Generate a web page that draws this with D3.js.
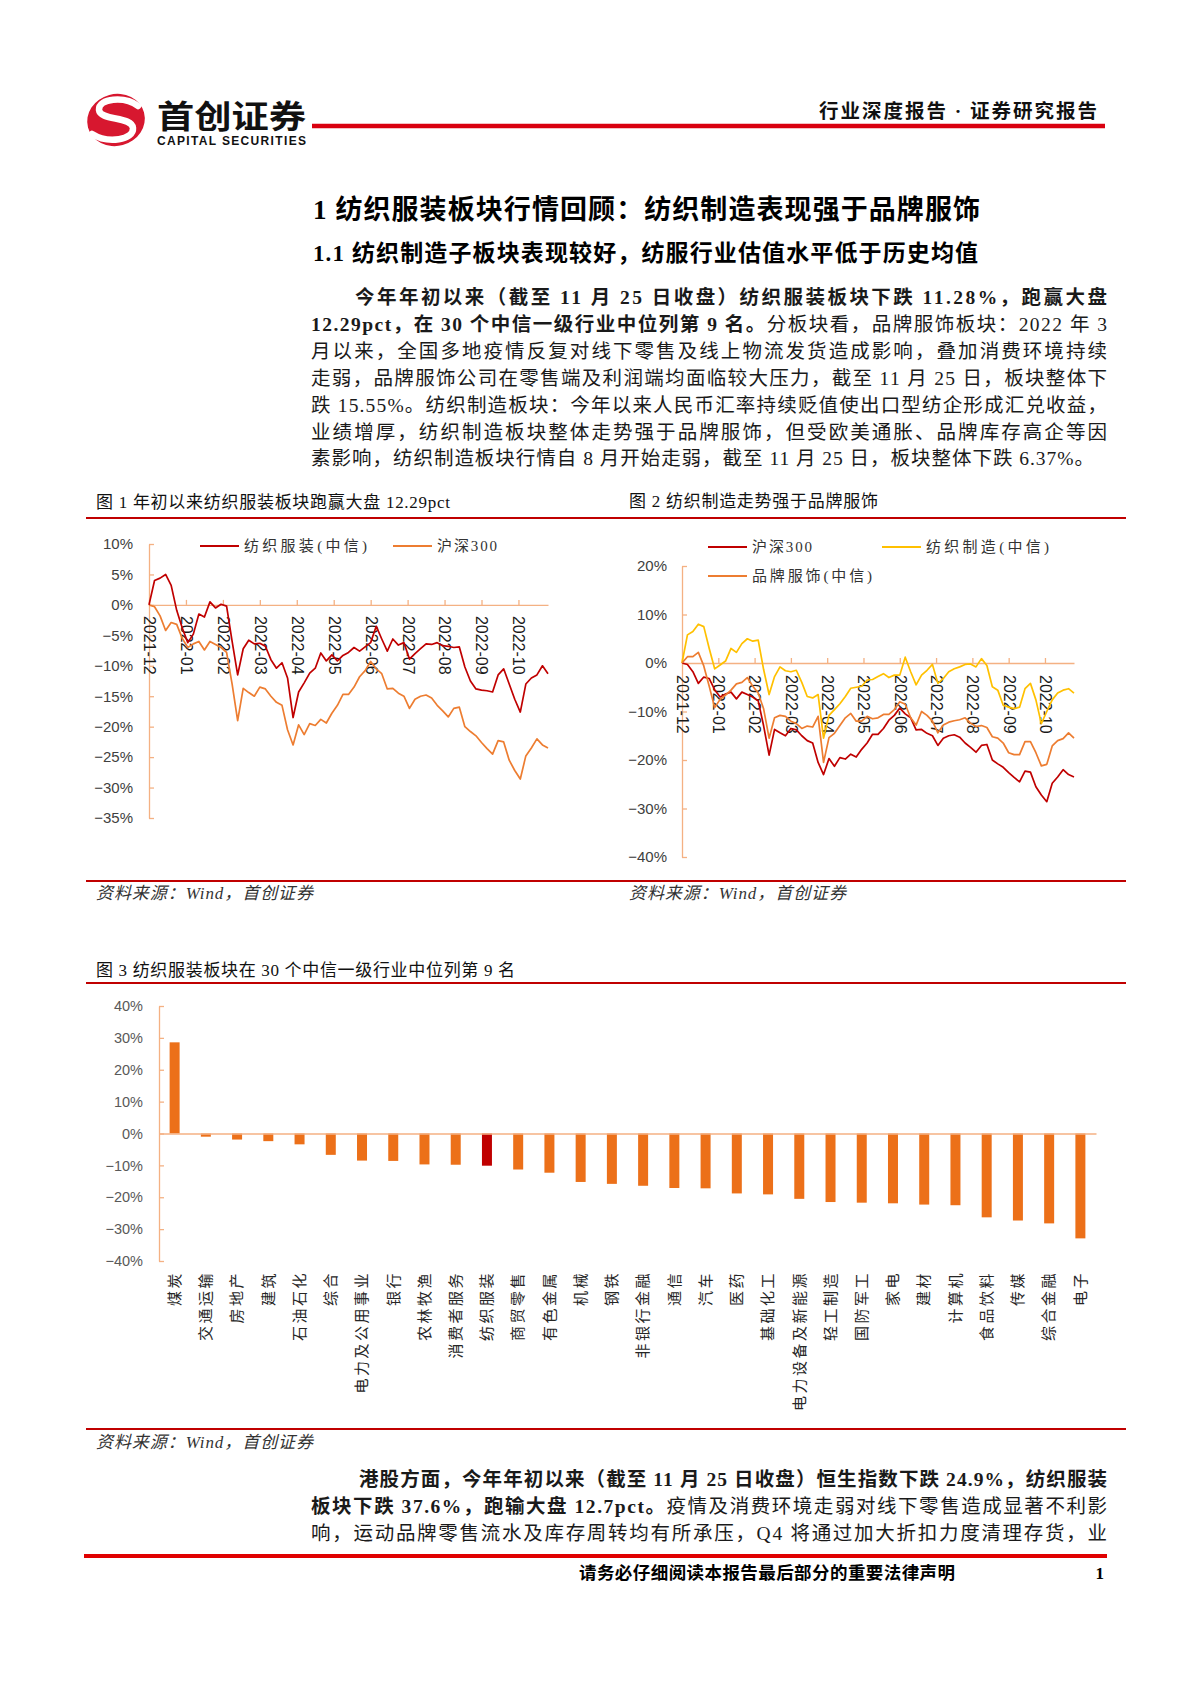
<!DOCTYPE html>
<html>
<head>
<meta charset="utf-8">
<script src="https://cdn.jsdelivr.net/npm/d3@7"></script>
<style>
  html, body { margin: 0; padding: 0; background: #fff; }
  svg { display: block; }
</style>
</head>
<body>
<div id="page"></div>
<script>
// ---- data -------------------------------------------------------------
const monthLabels = ["2021-12", "2022-01", "2022-02", "2022-03", "2022-04", "2022-05",
                     "2022-06", "2022-07", "2022-08", "2022-09", "2022-10"];
const sampleStep = 3;   // trading days between two samples
const tickEvery = 20;   // trading days between two month labels
const lastDay = 216;

// 纺织服装(中信), cumulative return in %
const textileApparel = [
  0, 4.0, 4.4, 5.0, 3.2, -0.9, -3.8, -6.2, -4.8, -1.5,
  -2.0, 0.5, -0.5, 0.1, -0.2, -6.0, -11.5, -7.2, -5.8, -6.4,
  -6.3, -6.8, -9.0, -10.4, -9.5, -12.0, -18.5, -14.3, -12.8, -11.2,
  -10.4, -7.9, -9.2, -8.2, -9.2, -8.3, -7.8, -7.0, -7.6, -6.9,
  -6.2, -3.5, -5.6, -7.6, -5.6, -6.6, -6.2, -8.9, -8.0, -7.2,
  -6.4, -6.5, -6.2, -6.7, -6.8, -7.0, -6.9, -10.2, -12.5, -13.8,
  -14.0, -14.1, -14.3, -11.5, -10.5, -13.0, -15.5, -17.6, -13.0, -12.0,
  -11.5, -10.0, -11.3
];
// 沪深300
const hs300 = [
  0, -0.3, -1.8, -4.2, -2.9, -3.2, -5.5, -7.0, -6.4, -6.0,
  -7.4, -6.0, -6.5, -7.0, -7.8, -13.0, -19.0, -13.7, -14.4, -15.0,
  -13.5, -13.8, -15.0, -16.0, -16.5, -20.5, -23.0, -19.7, -21.3, -19.5,
  -19.8, -18.8, -19.4, -17.8, -16.5, -14.7, -14.7, -13.5, -11.8, -10.8,
  -9.3, -10.5, -11.3, -13.8, -13.7, -14.5, -15.0, -17.0, -15.5, -15.0,
  -14.8, -15.3, -16.5, -17.4, -18.4, -17.0, -16.8, -20.0, -20.8, -21.5,
  -22.6, -23.6, -24.5, -22.3, -22.5, -25.5, -27.2, -28.6, -24.8, -23.5,
  -22.0, -23.0, -23.5
];
// 纺织制造(中信)
const textileMfg = [
  0, 5.8, 6.5, 8.0, 7.5, 3.0, -1.2, -0.4, 0.4, 3.0,
  2.2, 4.0, 5.0, 4.5, 4.7, -1.4, -6.5, -2.8, -0.8, -1.6,
  -1.8, -1.5, -4.0, -6.9, -7.2, -6.5, -15.5, -10.8, -9.6, -8.4,
  -6.9, -5.2, -5.0, -4.8, -3.5, -3.4, -2.8, -2.2, -3.0, -2.5,
  -2.5, 1.2, -1.8, -4.5, -2.5, -1.5, -0.3, -4.2, -3.2, -1.8,
  -1.2, -0.8, -0.3, -0.2, -0.8, 0.9, -0.5, -4.9, -5.6, -8.7,
  -9.1, -9.4, -9.1, -5.3, -4.2, -7.6, -12.5, -10.0, -7.6, -6.2,
  -5.6, -5.3, -6.2
];
// 品牌服饰(中信)
const brandApparel = [
  0, 1.3, 1.3, 2.2, -0.6, -4.8, -9.2, -7.5, -6.6, -5.6,
  -4.3, -4.0, -3.0, -4.8, -6.2, -9.5, -15.5, -11.3, -10.8, -11.0,
  -12.0, -12.5, -13.5, -13.0, -13.2, -11.0, -20.5, -15.4, -14.5, -12.9,
  -11.3, -10.4, -12.0, -12.0, -11.0, -11.5, -11.3, -10.6, -10.6, -9.6,
  -8.0, -8.5, -11.3, -12.8, -10.0, -10.8, -12.0, -14.4, -12.8, -12.2,
  -11.9, -11.7, -11.3, -12.4, -13.1, -12.9, -13.3, -15.2, -15.5, -16.5,
  -18.5, -18.9, -18.9, -16.2, -16.2, -18.5, -21.2, -20.9, -17.1, -16.0,
  -15.6, -14.4, -15.5
];

const industries = ["煤炭", "交通运输", "房地产", "建筑", "石油石化", "综合", "电力及公用事业",
  "银行", "农林牧渔", "消费者服务", "纺织服装", "商贸零售", "有色金属", "机械", "钢铁",
  "非银行金融", "通信", "汽车", "医药", "基础化工", "电力设备及新能源", "轻工制造",
  "国防军工", "家电", "建材", "计算机", "食品饮料", "传媒", "综合金融", "电子"];
const industryReturns = [28.6, -1.0, -1.9, -2.4, -3.4, -6.7, -8.5,
  -8.6, -9.7, -9.8, -10.1, -11.3, -12.3, -15.2, -15.8,
  -16.4, -17.1, -17.2, -18.8, -19.1, -20.5, -21.5,
  -21.7, -21.9, -22.3, -22.5, -26.3, -27.3, -28.2, -32.9];
const highlightIndustry = "纺织服装";

// ---- page -------------------------------------------------------------
const SERIF = "'Liberation Serif', 'Noto Sans CJK SC', serif";
const SANS = "'Liberation Sans', Arial, sans-serif";
const CJK = "'Noto Sans CJK SC', sans-serif";
const AXIS = "#F4B183";
const RED = "#C00000", ORANGE = "#ED7D31", YELLOW = "#FFC000";

const svg = d3.select("#page").append("svg")
  .attr("width", 1190).attr("height", 1683);
svg.append("rect").attr("width", 1190).attr("height", 1683).attr("fill", "#fff");

function rule(x1, x2, y, w, color) {
  svg.append("line").attr("x1", x1).attr("x2", x2).attr("y1", y).attr("y2", y)
    .attr("stroke", color).attr("stroke-width", w);
}

// one line of text made of [string, bold] parts, stretched to a width
function textLine(x, y, width, parts, size, family, color) {
  const t = svg.append("text").attr("x", x).attr("y", y)
    .attr("font-size", size).attr("font-family", family || SERIF)
    .attr("fill", color || "#1a1a1a");
  if (width) t.attr("textLength", width).attr("lengthAdjust", "spacing");
  parts.forEach(p => t.append("tspan").attr("font-weight", p[1] ? "bold" : "normal").text(p[0]));
  return t;
}

// header / logo
const logo = svg.append("g");
logo.append("ellipse").attr("cx", 116).attr("cy", 120).attr("rx", 29).attr("ry", 26)
  .attr("transform", "rotate(-15 116 120)").attr("fill", "#D7172F");
logo.append("path")
  .attr("d", "M138,106 C125,96 98,98 99,110 C100,121 132,116 133,128 C134,140 108,144 92,134")
  .attr("fill", "none").attr("stroke", "#fff").attr("stroke-width", 6.5).attr("stroke-linecap", "round");
textLine(157, 128, 149, [["首创证券", true]], 32, CJK, "#111")
  .attr("lengthAdjust", "spacingAndGlyphs").attr("font-weight", 900);
textLine(157, 145, 149, [["CAPITAL SECURITIES", true]], 12, SANS, "#111");
rule(312, 1105, 126, 4.5, "#D9000F");
textLine(819, 118, 278, [["行业深度报告 · 证券研究报告", true]], 19.5, SERIF, "#111");

textLine(313, 219, 667, [["1 纺织服装板块行情回顾：纺织制造表现强于品牌服饰", true]], 27, SERIF, "#000");
textLine(313, 261, 665, [["1.1 纺织制造子板块表现较好，纺服行业估值水平低于历史均值", true]], 23, SERIF, "#000");

const para = [
  [355, 752, [["今年年初以来（截至 11 月 25 日收盘）纺织服装板块下跌 11.28%，跑赢大盘", true]]],
  [311, 796, [["12.29pct，在 30 个中信一级行业中位列第 9 名。", true], ["分板块看，品牌服饰板块：2022 年 3", false]]],
  [311, 796, [["月以来，全国多地疫情反复对线下零售及线上物流发货造成影响，叠加消费环境持续", false]]],
  [311, 796, [["走弱，品牌服饰公司在零售端及利润端均面临较大压力，截至 11 月 25 日，板块整体下", false]]],
  [311, 796, [["跌 15.55%。纺织制造板块：今年以来人民币汇率持续贬值使出口型纺企形成汇兑收益，", false]]],
  [311, 796, [["业绩增厚，纺织制造板块整体走势强于品牌服饰，但受欧美通胀、品牌库存高企等因", false]]],
  [311, 783, [["素影响，纺织制造板块行情自 8 月开始走弱，截至 11 月 25 日，板块整体下跌 6.37%。", false]]]
];
para.forEach((l, i) => textLine(l[0], 304 + i * 26.9, l[1], l[2], 19.5));

// figure frames
textLine(96, 508, 354, [["图 1 年初以来纺织服装板块跑赢大盘 12.29pct", false]], 17, SERIF, "#111");
textLine(629, 507, 249, [["图 2 纺织制造走势强于品牌服饰", false]], 17, SERIF, "#111");
rule(86, 1126, 518, 2.2, RED);
rule(86, 1126, 881, 2.2, RED);
textLine(96, 899, 217, [["资料来源：Wind，首创证券", false]], 17, SERIF, "#333").attr("font-style", "italic");
textLine(629, 899, 217, [["资料来源：Wind，首创证券", false]], 17, SERIF, "#333").attr("font-style", "italic");

textLine(96, 976, 419, [["图 3 纺织服装板块在 30 个中信一级行业中位列第 9 名", false]], 17, SERIF, "#111");
rule(86, 1126, 983, 2.2, RED);
rule(86, 1126, 1429, 2.2, RED);
textLine(96, 1448, 217, [["资料来源：Wind，首创证券", false]], 17, SERIF, "#333").attr("font-style", "italic");

// bottom paragraph and footer
const para2 = [
  [359, 748, [["港股方面，今年年初以来（截至 11 月 25 日收盘）恒生指数下跌 24.9%，纺织服装", true]]],
  [311, 796, [["板块下跌 37.6%，跑输大盘 12.7pct。", true], ["疫情及消费环境走弱对线下零售造成显著不利影", false]]],
  [311, 796, [["响，运动品牌零售流水及库存周转均有所承压，Q4 将通过加大折扣力度清理存货，业", false]]]
];
para2.forEach((l, i) => textLine(l[0], 1486 + i * 27, l[1], l[2], 19.5));
rule(84, 1107, 1556, 4, "#E00000");
textLine(579, 1579, 376, [["请务必仔细阅读本报告最后部分的重要法律声明", true]], 17.5, SERIF, "#000");
svg.append("text").attr("x", 1104).attr("y", 1579).attr("text-anchor", "end")
  .attr("font-family", SERIF).attr("font-weight", "bold").attr("font-size", 17).text("1");

// ---- line charts ------------------------------------------------------
function lineChart(opt) {
  const x = d3.scaleLinear().domain([0, lastDay]).range([opt.left, opt.right]);
  const y = d3.scaleLinear().domain(opt.yDomain).range([opt.bottom, opt.top]);
  const g = svg.append("g");

  g.append("g").attr("transform", `translate(${opt.left},0)`)
    .call(d3.axisLeft(y)
      .tickValues(d3.range(opt.yDomain[0], opt.yDomain[1] + 0.1, opt.yStep))
      .tickSizeInner(-5).tickSizeOuter(0).tickPadding(opt.yPad)
      .tickFormat(d => d3.format("d")(d) + "%"))
    .call(a => {
      a.select(".domain").attr("stroke", AXIS).attr("stroke-width", 1.3);
      a.selectAll(".tick line").attr("stroke", AXIS).attr("stroke-width", 1.3);
      a.selectAll("text").attr("font-family", SANS).attr("font-size", 15).attr("fill", "#404040");
    });

  g.append("g").attr("transform", `translate(0,${y(0)})`)
    .call(d3.axisBottom(x)
      .tickValues(monthLabels.map((m, i) => i * tickEvery))
      .tickSizeInner(-5).tickSizeOuter(0)
      .tickFormat((d, i) => monthLabels[i]))
    .call(a => {
      a.select(".domain").attr("stroke", AXIS).attr("stroke-width", 1.3);
      a.selectAll(".tick line").attr("stroke", AXIS).attr("stroke-width", 1.3);
      a.selectAll("text")
        .attr("transform", "rotate(90)")
        .attr("x", opt.xPad).attr("y", 0).attr("dy", "0.35em")
        .attr("text-anchor", "start")
        .attr("font-family", SANS).attr("font-size", 16).attr("fill", "#1a1a1a");
    });

  const line = d3.line().x((d, i) => x(i * sampleStep)).y(d => y(d));
  opt.series.forEach(s => {
    g.append("path").datum(s.values)
      .attr("fill", "none").attr("stroke", s.color).attr("stroke-width", 1.7)
      .attr("stroke-linejoin", "round").attr("d", line);
  });

  opt.series.forEach(s => {
    const lg = g.append("g").attr("transform", `translate(${s.lx},${s.ly})`);
    lg.append("line").attr("x1", 0).attr("x2", 39).attr("stroke", s.color).attr("stroke-width", 2);
    lg.append("text").attr("x", 44).attr("y", 5)
      .attr("font-family", SERIF).attr("font-size", 15).attr("fill", "#333")
      .attr("textLength", s.lw).attr("lengthAdjust", "spacing")
      .text(s.name);
  });
}

lineChart({
  left: 149, right: 548, top: 544, bottom: 818,
  yDomain: [-35, 10], yStep: 5, yPad: 16, xPad: 11,
  series: [
    { name: "沪深300", values: hs300, color: ORANGE, lx: 393, ly: 546, lw: 60 },
    { name: "纺织服装(中信)", values: textileApparel, color: RED, lx: 200, ly: 546, lw: 123 }
  ]
});

lineChart({
  left: 682, right: 1074, top: 566, bottom: 857,
  yDomain: [-40, 20], yStep: 10, yPad: 15, xPad: 12,
  series: [
    { name: "沪深300", values: hs300, color: RED, lx: 708, ly: 547, lw: 60 },
    { name: "纺织制造(中信)", values: textileMfg, color: YELLOW, lx: 882, ly: 547, lw: 123 },
    { name: "品牌服饰(中信)", values: brandApparel, color: ORANGE, lx: 708, ly: 576, lw: 120 }
  ]
});

// ---- bar chart --------------------------------------------------------
const x3 = d3.scaleBand().domain(industries).range([159, 1096])
  .paddingInner(0.68).paddingOuter(0.34);
const y3 = d3.scaleLinear().domain([-40, 40]).range([1261, 1006]);
const bars = svg.append("g");

bars.append("g").attr("transform", "translate(159,0)")
  .call(d3.axisLeft(y3).tickValues(d3.range(-40, 41, 10))
    .tickSizeInner(-5).tickSizeOuter(0).tickPadding(16)
    .tickFormat(d => d3.format("d")(d) + "%"))
  .call(a => {
    a.select(".domain").attr("stroke", AXIS).attr("stroke-width", 1.3);
    a.selectAll(".tick line").attr("stroke", AXIS).attr("stroke-width", 1.3);
    a.selectAll("text").attr("font-family", SANS).attr("font-size", 14.5).attr("fill", "#595959");
  });

bars.selectAll("rect").data(industries).enter().append("rect")
  .attr("x", d => x3(d))
  .attr("width", x3.bandwidth())
  .attr("y", (d, i) => y3(Math.max(0, industryReturns[i])))
  .attr("height", (d, i) => Math.abs(y3(industryReturns[i]) - y3(0)))
  .attr("fill", d => d === highlightIndustry ? RED : "#EC7019");

bars.append("g").attr("transform", `translate(0,${y3(0)})`)
  .call(d3.axisBottom(x3).tickSize(0).tickFormat(""))
  .call(a => a.select(".domain").attr("stroke", AXIS).attr("stroke-width", 1.3));

bars.selectAll(".cat").data(industries).enter().append("text")
  .attr("class", "cat")
  .attr("transform", d => `translate(${x3(d) + x3.bandwidth() / 2},1271) rotate(-90)`)
  .attr("text-anchor", "end").attr("dy", "0.35em")
  .attr("font-family", CJK).attr("font-size", 15).attr("letter-spacing", 2.5)
  .attr("fill", "#262626")
  .text(d => d);
</script>
</body>
</html>
